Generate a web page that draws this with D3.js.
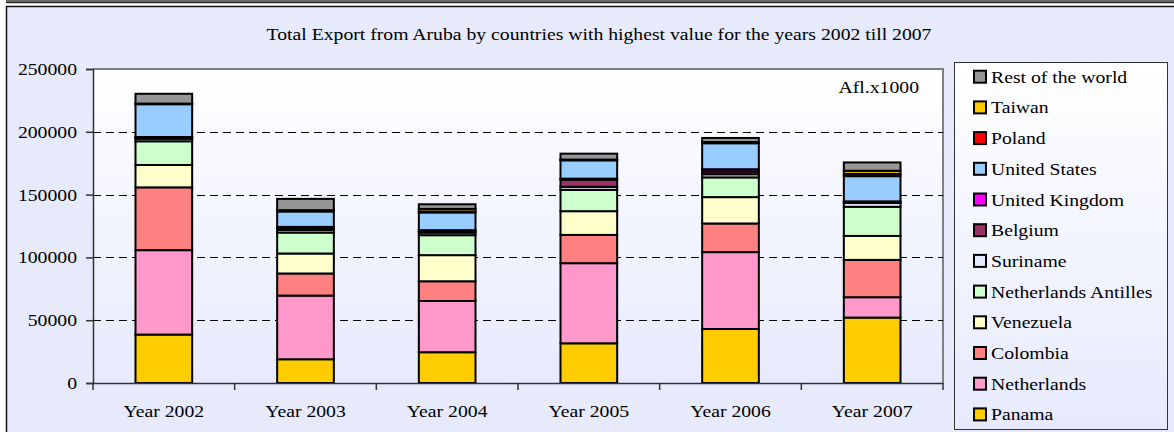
<!DOCTYPE html>
<html><head><meta charset="utf-8">
<script src="https://cdn.jsdelivr.net/npm/d3@7"></script>
<style>html,body{margin:0;padding:0;background:#fff;}svg{display:block;}</style>
</head><body>
<svg id="c" width="1174" height="432"></svg>
<script>
const years = ["Year 2002","Year 2003","Year 2004","Year 2005","Year 2006","Year 2007"];
// stacking order bottom -> top
const countries = ["Panama","Netherlands","Colombia","Venezuela","Netherlands Antilles","Suriname","Belgium","United Kingdom","United States","Poland","Taiwan","Rest of the world"];
const panama      = [38570, 18900, 24500, 31600, 43000, 52100];
const netherlands = [67200, 50700, 40800, 63800, 61200, 16200];
const colombia    = [50000, 17600, 15700, 22500, 22800, 29700];
const venezuela   = [17800, 15900, 20800, 18900, 21000, 19100];
const nethAntilles= [18900, 16700, 15900, 17000, 15700, 23200];
const suriname    = [2000, 2000, 2000, 2400, 2500, 3000];
const belgium     = [800, 1500, 1200, 5700, 2200, 700];
const unitedKingdom=[600, 1000, 800, 800, 1800, 600];
const unitedStates= [26100, 12300, 14100, 14600, 20700, 20100];
const poland      = [200, 300, 800, 300, 400, 1800];
const taiwan      = [300, 700, 2000, 300, 600, 2500];
const restOfWorld = [7800, 9000, 3700, 4700, 3200, 6600];
const yTicks = [0, 50000, 100000, 150000, 200000, 250000];
const colors = ["#FFCC00","#FF99CC","#FF8080","#FFFFCC","#CCFFCC","#E6EAFF","#993366","#FF00FF","#99CCFF","#FF0000","#FFCC00","#969696"];
const seriesValues = [panama,netherlands,colombia,venezuela,nethAntilles,suriname,belgium,unitedKingdom,unitedStates,poland,taiwan,restOfWorld];
const title = "Total Export from Aruba by countries with highest value for the years 2002 till 2007";
const unitLabel = "Afl.x1000";

const svg = d3.select("#c");
const FONT = "'Liberation Serif','Times New Roman',serif";
const SX = 1.12;
function txt(g, x, y, s, anchor, size){
  return g.append("text").attr("transform",`translate(${x},${y}) scale(${SX},1)`)
    .attr("text-anchor",anchor||"start").attr("font-family",FONT)
    .attr("font-size",size||17.6).attr("fill","#000").text(s);
}
const defs = svg.append("defs");
const gr = defs.append("linearGradient").attr("id","pg").attr("x1",0).attr("y1",0).attr("x2",0).attr("y2",1);
gr.append("stop").attr("offset","0%").attr("stop-color","#ffffff");
gr.append("stop").attr("offset","100%").attr("stop-color","#E6EAFC");

// top band and frame
svg.append("rect").attr("x",6).attr("y",0).attr("width",1168).attr("height",3).attr("fill","#6b6b6b");
svg.append("rect").attr("x",6).attr("y",2).attr("width",1168).attr("height",1.2).attr("fill","#222");
svg.append("rect").attr("x",6.5).attr("y",6.5).attr("width",1180).attr("height",440).attr("fill","#E6EAFB").attr("stroke","#111").attr("stroke-width",1.5);

const M = {l:93, r:943, t:69, b:383};
const x = d3.scaleBand().domain(years).range([M.l,M.r]).paddingInner(0.6).paddingOuter(0.3);
const y = d3.scaleLinear().domain([0,250000]).range([M.b,M.t]);

// plot area
svg.append("rect").attr("x",M.l).attr("y",M.t).attr("width",M.r-M.l).attr("height",M.b-M.t).attr("fill","url(#pg)");
svg.append("path").attr("d",`M${M.l},${M.t}H${M.r}V${M.b}`).attr("fill","none").attr("stroke","#808080").attr("stroke-width",2);

// gridlines
svg.append("g").selectAll("line").data(yTicks.filter(d=>d>0 && d<250000)).join("line")
  .attr("x1",M.l).attr("x2",M.r).attr("y1",d=>Math.round(y(d))+0.5).attr("y2",d=>Math.round(y(d))+0.5)
  .attr("stroke","#000").attr("stroke-width",1).attr("stroke-dasharray","8,5");

// stacked bars
const table = years.map((yr,i)=>{const o={year:yr}; countries.forEach((c,k)=>o[c]=seriesValues[k][i]); return o;});
const stack = d3.stack().keys(countries)(table);
svg.append("g").selectAll("g").data(stack).join("g").attr("fill",(d,i)=>colors[i])
  .selectAll("rect").data(d=>d).join("rect")
  .attr("x",d=>x(d.data.year)).attr("width",x.bandwidth())
  .attr("y",d=>y(d[1])).attr("height",d=>y(d[0])-y(d[1]))
  .attr("stroke","#000").attr("stroke-width",2);

// axes
const ya = svg.append("g").attr("transform",`translate(${M.l},0)`)
  .call(d3.axisLeft(y).tickValues(yTicks).tickSize(7).tickPadding(9).tickFormat(d3.format("d")));
ya.select(".domain").attr("stroke","#333").attr("stroke-width",1.5);
ya.selectAll(".tick line").attr("stroke","#333").attr("stroke-width",1.5);
ya.selectAll(".tick text").remove();
yTicks.forEach(v=>txt(svg, 77, y(v)+6, String(v), "end"));

const xa = svg.append("g").attr("transform",`translate(0,${M.b})`)
  .call(d3.axisBottom(x).tickSize(0).tickFormat(""));
xa.select(".domain").attr("stroke","#333").attr("stroke-width",1.5);
const step = x.step();
const bounds = d3.range(years.length+1).map(i=>M.l + i*step);
svg.append("g").selectAll("line").data(bounds).join("line")
  .attr("x1",d=>d).attr("x2",d=>d).attr("y1",M.b).attr("y2",M.b+7)
  .attr("stroke","#333").attr("stroke-width",1.5);
years.forEach(yr=>txt(svg, x(yr)+x.bandwidth()/2, 416.5, yr, "middle"));

// title and unit
txt(svg, 599, 40, title, "middle");
txt(svg, 919, 93, unitLabel, "end");

// legend
svg.append("rect").attr("x",954.5).attr("y",62.5).attr("width",213).attr("height",367).attr("fill","url(#pg)").attr("stroke","#333").attr("stroke-width",1);
const legOrder = countries.slice().reverse();
legOrder.forEach((c,i)=>{
  const cy = 76.7 + i*30.7;
  svg.append("rect").attr("x",974).attr("y",cy-6).attr("width",12).attr("height",12)
    .attr("fill",colors[countries.indexOf(c)]).attr("stroke","#000").attr("stroke-width",2);
  txt(svg, 991, cy+6, c, "start");
});
</script>
</body></html>
